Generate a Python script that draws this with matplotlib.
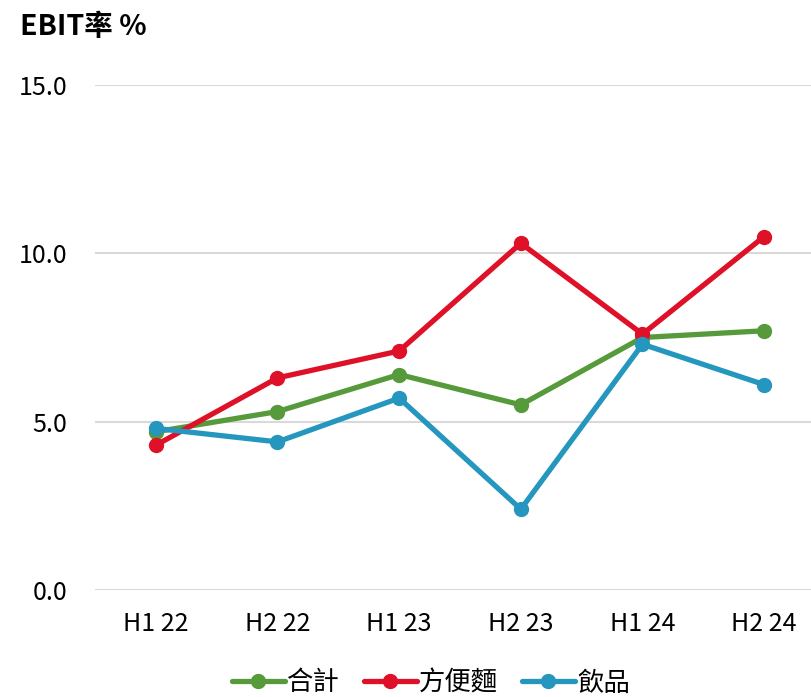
import matplotlib.pyplot as plt

# 資料
periods = ['H1 22', 'H2 22', 'H1 23', 'H2 23', 'H1 24', 'H2 24']
total = [4.7, 5.3, 6.4, 5.5, 7.5, 7.7]
noodles = [4.3, 6.3, 7.1, 10.3, 7.6, 10.5]
drinks = [4.8, 4.4, 5.7, 2.4, 7.3, 6.1]

series_names = ['合計', '方便麵', '飲品']
colors = ['#569A3C', '#DF1129', '#2596BD']
yticks = [0, 5, 10, 15]

plt.rcParams['font.family'] = ['Noto Sans CJK TC', 'DejaVu Sans']

fig = plt.figure(figsize=(8.12, 6.97), dpi=100)
ax = fig.add_axes([95 / 812, 107 / 697, 730 / 812, 505 / 697])

x = range(len(periods))
for vals, name, c in zip([total, noodles, drinks], series_names, colors):
    ax.plot(x, vals, color=c, lw=3.8, marker='o', ms=10, label=name,
            solid_joinstyle='round', solid_capstyle='round')

ax.set_xlim(-0.5, len(periods) - 0.5)
ax.set_ylim(0, 15)
ax.set_yticks(yticks)
ax.set_yticklabels([f'{v:.1f}' for v in yticks])
ax.set_xticks(list(x))
ax.set_xticklabels(periods)
ax.tick_params(axis='both', length=0, labelsize=18, colors='black')
ax.tick_params(axis='x', pad=15)
ax.tick_params(axis='y', pad=20)
ax.grid(axis='y', color='#D9D9D9', lw=1.5)
ax.set_axisbelow(True)
for s in ax.spines.values():
    s.set_visible(False)

fig.text(20 / 812, 1 - 27 / 697, 'EBIT率 %', fontsize=20.5, fontweight='bold',
         va='center', ha='left')

fig.legend(loc='center', bbox_to_anchor=(431 / 812, 1 - 683 / 697), ncol=3,
           frameon=False, fontsize=19, handlelength=2.0, handletextpad=0.1,
           columnspacing=0.9)

fig.savefig('out.png', dpi=100)
